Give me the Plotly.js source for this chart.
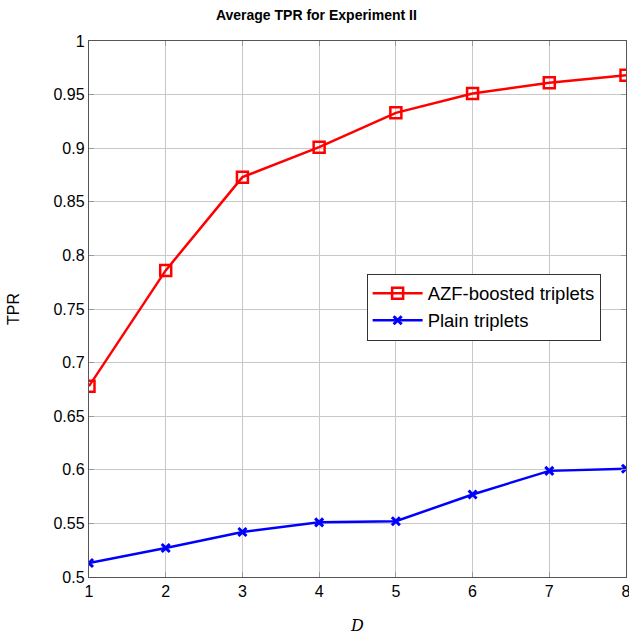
<!DOCTYPE html>
<html><head><meta charset="utf-8">
<script src="https://cdn.plot.ly/plotly-3.0.1.min.js"></script>
<style>html,body{margin:0;padding:0;background:#fff}#c{width:629px;height:635px}</style>
</head><body><div id="c"></div>
<script>
const D = [1, 2, 3, 4, 5, 6, 7, 8];
const azfBoosted = [0.678, 0.786, 0.873, 0.901, 0.933, 0.951, 0.961, 0.968];
const plain = [0.513, 0.527, 0.542, 0.551, 0.552, 0.577, 0.599, 0.601];
const yTicks = [0.5, 0.55, 0.6, 0.65, 0.7, 0.75, 0.8, 0.85, 0.9, 0.95, 1];
const yTickText = ['0.5', '0.55', '0.6', '0.65', '0.7', '0.75', '0.8', '0.85', '0.9', '0.95', '1'];

const traces = [
  {x: D, y: azfBoosted, name: 'AZF-boosted triplets', mode: 'lines+markers',
   line: {color: '#ff0000', width: 2.5},
   marker: {symbol: 'square-open', size: 11, color: '#ff0000', line: {width: 2.5, color: '#ff0000'}}},
  {x: D, y: plain, name: 'Plain triplets', mode: 'lines+markers',
   line: {color: '#0000ff', width: 2.5},
   marker: {symbol: 'x-thin-open', size: 8, color: '#0000ff', line: {width: 3, color: '#0000ff'}}}
];
const axisCommon = {
  showgrid: true, gridcolor: '#c8c8c8', gridwidth: 1,
  showline: true, linecolor: '#555', linewidth: 1.2, mirror: 'ticks',
  ticks: 'inside', ticklen: 5, tickcolor: '#999', zeroline: false,
  ticklabeloverflow: 'allow',
  tickfont: {family: 'Liberation Sans, Arial, sans-serif', size: 16, color: '#000'}
};
const layout = {
  width: 629, height: 635,
  margin: {l: 89, r: 3, t: 41, b: 58},
  paper_bgcolor: '#fff', plot_bgcolor: '#fff',
  title: {text: '<b>Average TPR for Experiment II</b>', x: 0.503, xanchor: 'center', y: 0.976, yanchor: 'middle',
          font: {family: 'Liberation Sans, Arial, sans-serif', size: 14, color: '#000'}},
  xaxis: Object.assign({}, axisCommon, {range: [1, 8], tickvals: D, ticktext: D.map(String),
    title: {text: '<i>D</i>', standoff: 20, font: {family: 'DejaVu Serif, Liberation Serif, serif', size: 16, color: '#000'}}}),
  yaxis: Object.assign({}, axisCommon, {range: [0.5, 1], tickvals: yTicks, ticktext: yTickText,
    title: {text: 'TPR', standoff: 29, font: {family: 'Liberation Sans, Arial, sans-serif', size: 16, color: '#000'}}}),
  legend: {x: 0.517, y: 0.566, xanchor: 'left', yanchor: 'top',
    bgcolor: '#fff', bordercolor: '#333', borderwidth: 1,
    font: {family: 'Liberation Sans, Arial, sans-serif', size: 18.5, color: '#000'},
    itemwidth: 50, tracegroupgap: 2},
  showlegend: true
};
Plotly.newPlot('c', traces, layout, {displayModeBar: false, staticPlot: true});
</script></body></html>
